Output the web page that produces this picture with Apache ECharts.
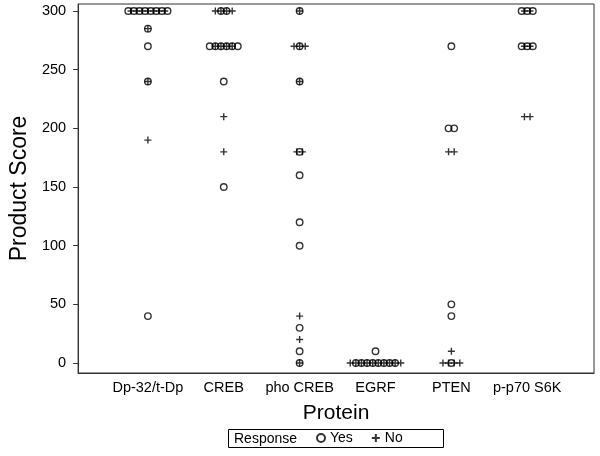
<!DOCTYPE html>
<html>
<head>
<meta charset="utf-8">
<script src="https://cdn.jsdelivr.net/npm/echarts@6/dist/echarts.min.js"></script>
<style>html,body{margin:0;padding:0;background:#fff}#c{width:600px;height:456px}</style>
</head>
<body>
<div id="c"></div>
<script>
const categories = ['Dp-32/t-Dp', 'CREB', 'pho CREB', 'EGRF', 'PTEN', 'p-p70 S6K'];
const yTicks = [0, 50, 100, 150, 200, 250, 300];
// Product scores per protein, responders (Yes)
const yesScores = [
  [300, 300, 300, 300, 300, 300, 300, 300, 285, 270, 240, 40],
  [300, 300, 270, 270, 270, 270, 270, 270, 240, 150],
  [300, 270, 240, 180, 160, 120, 100, 30, 10, 0],
  [10, 0, 0, 0, 0, 0, 0, 0, 0],
  [270, 200, 200, 50, 40, 0],
  [300, 300, 300, 270, 270, 270]
];
// Product scores per protein, non-responders (No)
const noScores = [
  [300, 300, 300, 300, 300, 300, 300, 285, 240, 190],
  [300, 300, 300, 300, 270, 270, 270, 270, 210, 180],
  [300, 270, 270, 270, 240, 180, 180, 40, 20, 0],
  [0, 0, 0, 0, 0, 0, 0, 0, 0, 0],
  [180, 180, 10, 0, 0, 0, 0],
  [300, 300, 270, 270, 210, 210]
];

const STEP = 0.074; // horizontal spread of tied points (axis units)
function spread(lists) {
  const out = [];
  lists.forEach((vals, ci) => {
    const counts = {};
    vals.forEach(v => { counts[v] = (counts[v] || 0) + 1; });
    const seen = {};
    vals.forEach(v => {
      const i = seen[v] || 0; seen[v] = i + 1;
      const n = counts[v];
      out.push([ci + 1 + (i - (n - 1) / 2) * STEP, v]);
    });
  });
  return out;
}

const FONT = 'Arial, "Liberation Sans", sans-serif';
const chart = echarts.init(document.getElementById('c'), null, {renderer: 'canvas'});
chart.setOption({
  animation: false,
  backgroundColor: '#fff',
  grid: {left: 76, right: 6, top: 4, bottom: 83, show: true, borderColor: '#333', borderWidth: 1},
  xAxis: {
    type: 'value', min: 0.08, max: 6.88,
    name: 'Protein', nameLocation: 'middle', nameGap: 30,
    nameTextStyle: {fontSize: 21, color: '#000', fontFamily: FONT},
    axisLine: {show: true, onZero: false, lineStyle: {color: '#333', width: 1}},
    axisTick: {show: false},
    splitLine: {show: false},
    axisLabel: {
      customValues: [1, 2, 3, 4, 5, 6],
      formatter: v => categories[Math.round(v) - 1],
      fontSize: 14.5, color: '#000', fontFamily: FONT, margin: 7
    }
  },
  yAxis: {
    type: 'value', min: -8.5, max: 306,
    name: 'Product Score', nameLocation: 'middle', nameGap: 39,
    nameTextStyle: {fontSize: 23, color: '#000', fontFamily: FONT},
    axisLine: {show: true, onZero: false, lineStyle: {color: '#333', width: 1}},
    axisTick: {show: true, customValues: yTicks, length: 5, lineStyle: {color: '#333'}},
    splitLine: {show: false},
    axisLabel: {customValues: yTicks, fontSize: 14.5, color: '#000', fontFamily: FONT, margin: 12}
  },
  legend: {
    left: 316, top: 431, padding: 0, itemWidth: 8, itemHeight: 8, itemGap: 18,
    textStyle: {fontSize: 14, color: '#000', fontFamily: FONT},
    data: ['Yes', 'No']
  },
  graphic: [
    {type: 'rect', shape: {x: 228.5, y: 429.5, width: 215, height: 18},
     style: {fill: 'none', stroke: '#000', lineWidth: 1}},
    {type: 'text', x: 234, y: 439,
     style: {text: 'Response', font: '14px ' + FONT, fill: '#000', verticalAlign: 'middle'}}
  ],
  series: [
    {
      name: 'Yes', type: 'scatter', symbol: 'circle', symbolSize: 6.5,
      itemStyle: {color: 'rgba(255,255,255,0)', borderColor: '#000', borderWidth: 1.4},
      data: spread(yesScores)
    },
    {
      name: 'No', type: 'scatter', symbol: 'path://M0,5L10,5M5,0L5,10', symbolSize: 7,
      itemStyle: {color: 'rgba(255,255,255,0)', borderColor: '#000', borderWidth: 1.4},
      data: spread(noScores)
    }
  ]
});
</script>
</body>
</html>
